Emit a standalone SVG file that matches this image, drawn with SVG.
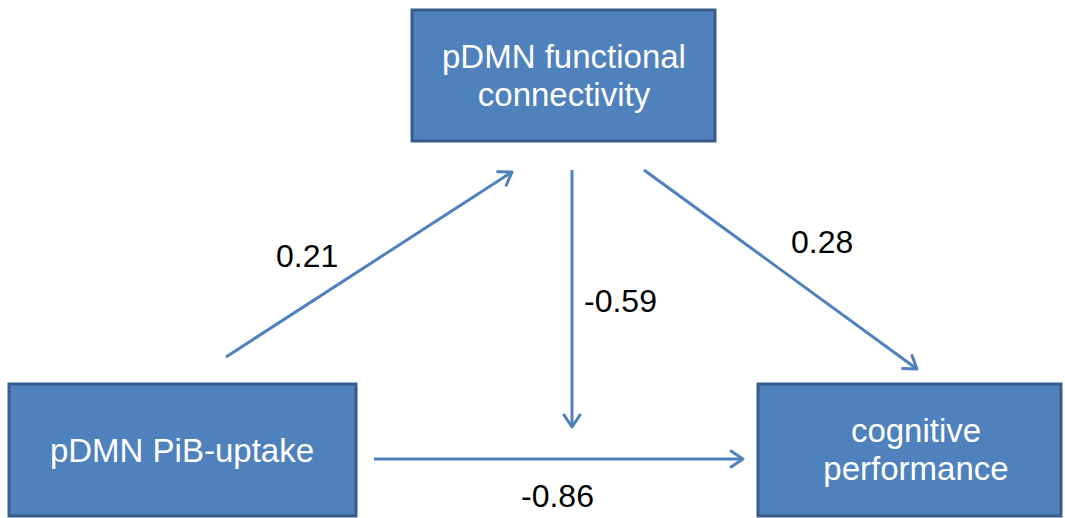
<svg xmlns="http://www.w3.org/2000/svg" width="1065" height="518" viewBox="0 0 1065 518">
<style>
.box{fill:#4F81BD;stroke:#385D8A;stroke-width:3}
.bt{fill:#FFFFFF;font-family:"Liberation Sans",Arial,sans-serif;font-size:33px;text-anchor:middle}
.lbl{fill:#000000;font-family:"Liberation Sans",Arial,sans-serif;font-size:32px}
.con{stroke:#4F81BD;stroke-width:3;fill:none;marker-end:url(#ah)}
</style>
<defs>
<marker id="ah" viewBox="0 0 20 20" refX="15" refY="10" markerWidth="20" markerHeight="20" markerUnits="userSpaceOnUse" orient="auto">
<path d="M3,2 L15,10 L3,18" fill="none" stroke="#4F81BD" stroke-width="3" stroke-linecap="round" stroke-linejoin="round"/>
</marker>
</defs>
<g id="node-fc">
<rect class="box" x="412" y="10" width="303" height="131"/>
<text class="bt" x="564" y="68">pDMN functional</text>
<text class="bt" x="564" y="106">connectivity</text>
</g>
<g id="node-pib">
<rect class="box" x="9" y="384" width="347" height="132"/>
<text class="bt" x="182" y="462">pDMN PiB-uptake</text>
</g>
<g id="node-cog">
<rect class="box" x="758" y="384" width="303" height="132"/>
<text class="bt" x="916" y="442">cognitive</text>
<text class="bt" x="916" y="480">performance</text>
</g>
<g id="connectors">
<line class="con" x1="226" y1="357" x2="512" y2="172"/>
<line class="con" x1="572" y1="170" x2="572" y2="427"/>
<line class="con" x1="644" y1="170" x2="917" y2="369"/>
<line class="con" x1="374" y1="459" x2="743" y2="459"/>
</g>
<g id="labels">
<text class="lbl" x="276" y="267">0.21</text>
<text class="lbl" x="584" y="312">-0.59</text>
<text class="lbl" x="791" y="253">0.28</text>
<text class="lbl" x="521" y="507">-0.86</text>
</g>
</svg>
